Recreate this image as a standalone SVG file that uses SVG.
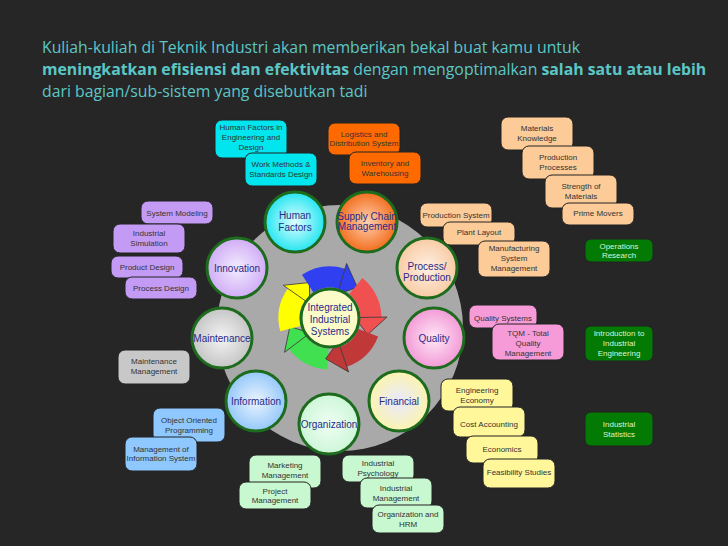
<svg xmlns="http://www.w3.org/2000/svg" width="728" height="546" viewBox="0 0 728 546">
<style>
.t{font-family:"Open Sans","Liberation Sans",sans-serif;font-size:15.8px;fill:#5cc6c6}
.b{font-weight:bold}
.bx{stroke:#222;stroke-width:1}
.bt{font-family:"Liberation Sans",Arial,sans-serif;font-size:8px;fill:#333;text-anchor:middle}
.gt{font-family:"Liberation Sans",Arial,sans-serif;font-size:8px;fill:#d8f5d8;text-anchor:middle}
.ct{font-family:"Liberation Sans",Arial,sans-serif;font-size:10px;fill:#2a2a88;text-anchor:middle}
.ci{stroke:#1d6b1d;stroke-width:3}
.arc{fill:none;stroke-width:21}
.ah{stroke:#333;stroke-width:0.8;stroke-linejoin:round}
</style>
<defs>
<radialGradient id="gc" cx="0.5" cy="0.5" r="0.6"><stop offset="0" stop-color="#e0ffff"/><stop offset="1" stop-color="#00e0ee"/></radialGradient>
<radialGradient id="go" cx="0.5" cy="0.5" r="0.6"><stop offset="0" stop-color="#ffd0b0"/><stop offset="1" stop-color="#f05a00"/></radialGradient>
<radialGradient id="gl" cx="0.5" cy="0.5" r="0.6"><stop offset="0" stop-color="#f4ecff"/><stop offset="1" stop-color="#c8a0f4"/></radialGradient>
<radialGradient id="gp" cx="0.5" cy="0.5" r="0.6"><stop offset="0" stop-color="#fff0e4"/><stop offset="1" stop-color="#f6c498"/></radialGradient>
<radialGradient id="gg" cx="0.5" cy="0.5" r="0.6"><stop offset="0" stop-color="#f4f4f4"/><stop offset="1" stop-color="#bcbcbc"/></radialGradient>
<radialGradient id="gk" cx="0.5" cy="0.5" r="0.6"><stop offset="0" stop-color="#ffe8f6"/><stop offset="1" stop-color="#f08ad0"/></radialGradient>
<radialGradient id="gb" cx="0.5" cy="0.5" r="0.6"><stop offset="0" stop-color="#eaf4ff"/><stop offset="1" stop-color="#84bff8"/></radialGradient>
<radialGradient id="gy" cx="0.5" cy="0.5" r="0.6"><stop offset="0" stop-color="#e8e8ff"/><stop offset="1" stop-color="#fff7a0"/></radialGradient>
<radialGradient id="gn" cx="0.5" cy="0.5" r="0.6"><stop offset="0" stop-color="#f0fff4"/><stop offset="1" stop-color="#c6f4d2"/></radialGradient>
</defs>
<rect width="728" height="546" fill="#262626"/>
<text class="t" x="42" y="53">Kuliah-kuliah di Teknik Industri akan memberikan bekal buat kamu untuk</text>
<text class="t" x="42" y="75"><tspan class="b">meningkatkan efisiensi dan efektivitas</tspan> dengan mengoptimalkan <tspan class="b">salah satu atau lebih</tspan></text>
<text class="t" x="42" y="97">dari bagian/sub-sistem yang disebutkan tadi</text>

<circle cx="340" cy="328" r="123" fill="#a9a9a9"/>

<g id="connectors">
<path class="arc" d="M327.9,359 A41,41 0 0 1 297.2,342.7" stroke="#40e050"/>
<polygon class="ah" points="310,333 284.5,352.3 289.9,326.5" fill="#40e050"/>
<path class="arc" d="M290.4,328.6 A41,41 0 0 1 296.4,294.5" stroke="#ffff00"/>
<polygon class="ah" points="309.5,303.7 283.3,285.3 309.5,282.5" fill="#ffff00"/>
<path class="arc" d="M307.7,283.6 A41,41 0 0 1 342,278.8" stroke="#3040f0"/>
<polygon class="ah" points="337.3,294.1 346.6,263.5 357.4,287.5" fill="#3040f0"/>
<path class="arc" d="M355.8,286.1 A41,41 0 0 1 371,317.3" stroke="#f05050"/>
<polygon class="ah" points="355,317.6 387,317 367.5,334.7" fill="#f05050"/>
<path class="arc" d="M368.3,332.7 A41,41 0 0 1 343.4,356.8" stroke="#c03838"/>
<polygon class="ah" points="338.2,341.6 348.6,371.9 325.7,358.8" fill="#c03838"/>
</g>

<g id="n-center"><circle cx="330" cy="318" r="29" fill="#fbfbc8" class="ci"/><text class="ct" x="330" y="311">Integrated</text><text class="ct" x="330" y="323">Industrial</text><text class="ct" x="330" y="335">Systems</text></g>
<g id="n-hf"><circle cx="295" cy="222" r="30" fill="url(#gc)" class="ci"/><text class="ct" x="295" y="219">Human</text><text class="ct" x="295" y="231">Factors</text></g>
<g id="n-sc"><circle cx="367" cy="222" r="30" fill="url(#go)" class="ci"/><text class="ct" x="367" y="220" font-size="8.5">Supply Chain</text><text class="ct" x="367" y="230" font-size="8.5">Management</text></g>
<g id="n-in"><circle cx="237" cy="268" r="30" fill="url(#gl)" class="ci"/><text class="ct" x="237" y="272">Innovation</text></g>
<g id="n-pp"><circle cx="427" cy="268" r="30" fill="url(#gp)" class="ci"/><text class="ct" x="427" y="270" font-size="9.5">Process/</text><text class="ct" x="427" y="281" font-size="9.5">Production</text></g>
<g id="n-ma"><circle cx="222" cy="338" r="30" fill="url(#gg)" class="ci"/><text class="ct" x="222" y="342">Maintenance</text></g>
<g id="n-qu"><circle cx="434" cy="338" r="30" fill="url(#gk)" class="ci"/><text class="ct" x="434" y="342">Quality</text></g>
<g id="n-if"><circle cx="256" cy="401" r="30" fill="url(#gb)" class="ci"/><text class="ct" x="256" y="405">Information</text></g>
<g id="n-fi"><circle cx="399" cy="401" r="30" fill="url(#gy)" class="ci"/><text class="ct" x="399" y="405">Financial</text></g>
<g id="n-or"><circle cx="329" cy="424" r="30" fill="url(#gn)" class="ci"/><text class="ct" x="329" y="428">Organization</text></g>

<g id="b-hf1"><rect class="bx" x="215" y="120" width="72" height="38" rx="7" fill="#00e5ee"/><text class="bt" x="251" y="130">Human Factors in</text><text class="bt" x="251" y="140">Engineering and</text><text class="bt" x="251" y="150">Design</text></g>
<g id="b-hf2"><rect class="bx" x="245" y="153" width="72" height="33" rx="7" fill="#00e5ee"/><text class="bt" x="281" y="167">Work Methods &amp;</text><text class="bt" x="281" y="177">Standards Design</text></g>
<g id="b-sc1"><rect class="bx" x="328" y="123" width="72" height="32" rx="7" fill="#ff6a00"/><text class="bt" x="364" y="137">Logistics and</text><text class="bt" x="364" y="146">Distribution System</text></g>
<g id="b-sc2"><rect class="bx" x="349" y="152" width="72" height="32" rx="7" fill="#ff6a00"/><text class="bt" x="385" y="166">Inventory and</text><text class="bt" x="385" y="176">Warehousing</text></g>

<g id="b-in1"><rect class="bx" x="141" y="201" width="72" height="23" rx="7" fill="#c39bf5"/><text class="bt" x="177" y="216">System Modeling</text></g>
<g id="b-in2"><rect class="bx" x="113" y="224" width="72" height="29" rx="7" fill="#c39bf5"/><text class="bt" x="149" y="236">Industrial</text><text class="bt" x="149" y="246">Simulation</text></g>
<g id="b-in3"><rect class="bx" x="111" y="256" width="72" height="22" rx="7" fill="#c39bf5"/><text class="bt" x="147" y="270">Product Design</text></g>
<g id="b-in4"><rect class="bx" x="125" y="277" width="72" height="22" rx="7" fill="#c39bf5"/><text class="bt" x="161" y="291">Process Design</text></g>

<g id="b-ma"><rect class="bx" x="118" y="350" width="72" height="34" rx="7" fill="#c8c8c8"/><text class="bt" x="154" y="364">Maintenance</text><text class="bt" x="154" y="374">Management</text></g>
<g id="b-if1"><rect class="bx" x="153" y="408" width="72" height="34" rx="7" fill="#8ec8ff"/><text class="bt" x="189" y="423">Object Oriented</text><text class="bt" x="189" y="433">Programming</text></g>
<g id="b-if2"><rect class="bx" x="125" y="437" width="72" height="34" rx="7" fill="#8ec8ff"/><text class="bt" x="161" y="452">Management of</text><text class="bt" x="161" y="461">Information System</text></g>

<g id="b-or1"><rect class="bx" x="249" y="455" width="72" height="33" rx="7" fill="#c8f8d0"/><text class="bt" x="285" y="468">Marketing</text><text class="bt" x="285" y="478">Management</text></g>
<g id="b-or2"><rect class="bx" x="239" y="482" width="72" height="27" rx="7" fill="#c8f8d0"/><text class="bt" x="275" y="494">Project</text><text class="bt" x="275" y="503">Management</text></g>
<g id="b-or3"><rect class="bx" x="342" y="455" width="72" height="27" rx="7" fill="#c8f8d0"/><text class="bt" x="378" y="466">Industrial</text><text class="bt" x="378" y="476">Psychology</text></g>
<g id="b-or4"><rect class="bx" x="360" y="478" width="72" height="30" rx="7" fill="#c8f8d0"/><text class="bt" x="396" y="491">Industrial</text><text class="bt" x="396" y="501">Management</text></g>
<g id="b-or5"><rect class="bx" x="372" y="505" width="72" height="28" rx="7" fill="#c8f8d0"/><text class="bt" x="408" y="517">Organization and</text><text class="bt" x="408" y="527">HRM</text></g>

<g id="b-fi1"><rect class="bx" x="441" y="379" width="72" height="32" rx="7" fill="#fff79a"/><text class="bt" x="477" y="393">Engineering</text><text class="bt" x="477" y="403">Economy</text></g>
<g id="b-fi2"><rect class="bx" x="453" y="407" width="72" height="30" rx="7" fill="#fff79a"/><text class="bt" x="489" y="427">Cost Accounting</text></g>
<g id="b-fi3"><rect class="bx" x="466" y="436" width="72" height="27" rx="7" fill="#fff79a"/><text class="bt" x="502" y="452">Economics</text></g>
<g id="b-fi4"><rect class="bx" x="483" y="459" width="72" height="29" rx="7" fill="#fff79a"/><text class="bt" x="519" y="475">Feasibility Studies</text></g>

<g id="b-qu1"><rect class="bx" x="469" y="305" width="68" height="23" rx="7" fill="#f79bd8"/><text class="bt" x="503" y="321">Quality Systems</text></g>
<g id="b-qu2"><rect class="bx" x="492" y="324" width="72" height="36" rx="7" fill="#f79bd8"/><text class="bt" x="528" y="336">TQM - Total</text><text class="bt" x="528" y="346">Quality</text><text class="bt" x="528" y="356">Management</text></g>

<g id="b-pp1"><rect class="bx" x="420" y="203" width="72" height="24" rx="7" fill="#fccb98"/><text class="bt" x="456" y="218">Production System</text></g>
<g id="b-pp2"><rect class="bx" x="443" y="222" width="72" height="23" rx="7" fill="#fccb98"/><text class="bt" x="479" y="235">Plant Layout</text></g>
<g id="b-pp3"><rect class="bx" x="478" y="241" width="72" height="36" rx="7" fill="#fccb98"/><text class="bt" x="514" y="251">Manufacturing</text><text class="bt" x="514" y="261">System</text><text class="bt" x="514" y="271">Management</text></g>
<g id="b-pp4"><rect class="bx" x="501" y="117" width="72" height="33" rx="7" fill="#fccb98"/><text class="bt" x="537" y="131">Materials</text><text class="bt" x="537" y="141">Knowledge</text></g>
<g id="b-pp5"><rect class="bx" x="522" y="146" width="72" height="33" rx="7" fill="#fccb98"/><text class="bt" x="558" y="160">Production</text><text class="bt" x="558" y="170">Processes</text></g>
<g id="b-pp6"><rect class="bx" x="545" y="175" width="72" height="33" rx="7" fill="#fccb98"/><text class="bt" x="581" y="189">Strength of</text><text class="bt" x="581" y="199">Materials</text></g>
<g id="b-pp7"><rect class="bx" x="562" y="203" width="72" height="22" rx="7" fill="#fccb98"/><text class="bt" x="598" y="216">Prime Movers</text></g>

<g id="b-g1"><rect class="bx" x="585" y="239" width="68" height="23" rx="6" fill="#037a03"/><text class="gt" x="619" y="249">Operations</text><text class="gt" x="619" y="258">Research</text></g>
<g id="b-g2"><rect class="bx" x="585" y="326" width="68" height="35" rx="6" fill="#037a03"/><text class="gt" x="619" y="336">Introduction to</text><text class="gt" x="619" y="346">Industrial</text><text class="gt" x="619" y="356">Engineering</text></g>
<g id="b-g3"><rect class="bx" x="585" y="412" width="68" height="34" rx="6" fill="#037a03"/><text class="gt" x="619" y="427">Industrial</text><text class="gt" x="619" y="437">Statistics</text></g>
</svg>
